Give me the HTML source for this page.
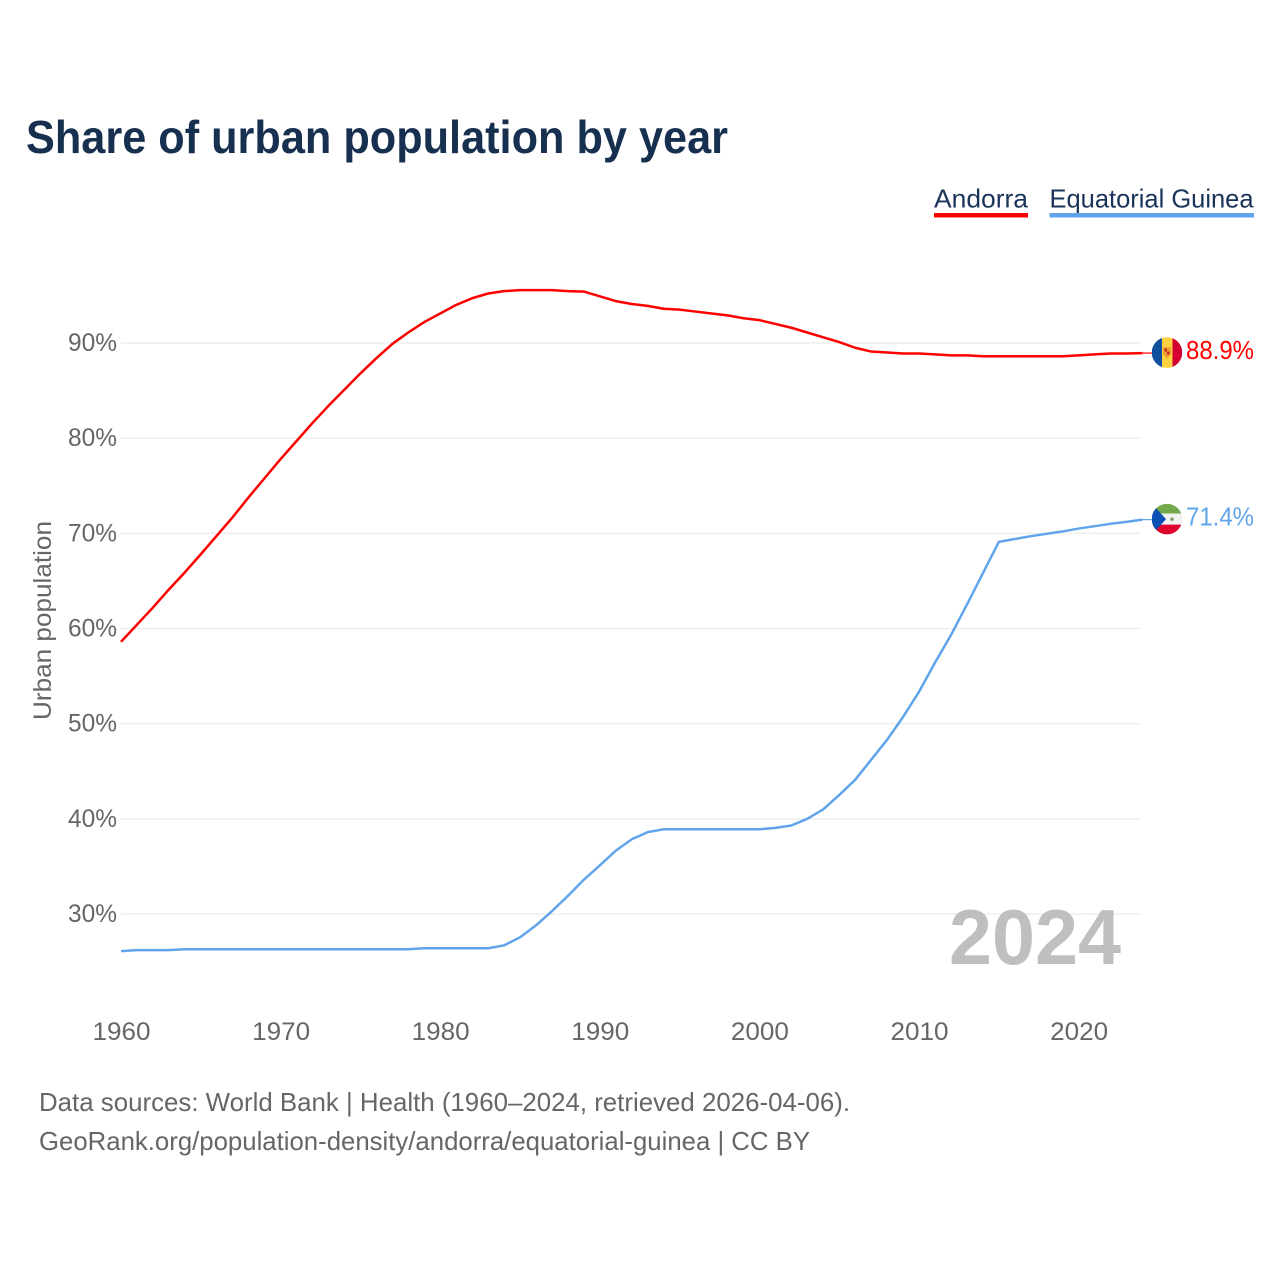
<!DOCTYPE html>
<html lang="en">
<head>
<meta charset="utf-8">
<title>Share of urban population by year</title>
<style>
html,body{margin:0;padding:0;background:#fff;}
svg{display:block;}
text{font-family:"Liberation Sans",sans-serif;}
</style>
</head>
<body>
<svg id="chart" xmlns="http://www.w3.org/2000/svg" width="1280" height="1280" viewBox="0 0 1280 1280">
  <rect x="0" y="0" width="1280" height="1280" fill="#ffffff"/>
  <text x="26" y="153" font-size="46" font-weight="700" fill="#17304f" textLength="702" lengthAdjust="spacingAndGlyphs">Share of urban population by year</text>

  <g>
    <text x="934" y="207.500" font-size="26" fill="#1a3358" textLength="94" lengthAdjust="spacingAndGlyphs">Andorra</text>
    <rect x="934" y="213" width="94" height="4.5" fill="#ff0000"/>
  </g>
  <g>
    <text x="1049.5" y="207.500" font-size="26" fill="#1a3358" textLength="204" lengthAdjust="spacingAndGlyphs">Equatorial Guinea</text>
    <rect x="1049.5" y="213" width="204.5" height="4.5" fill="#60a5ec"/>
  </g>

  <g id="grid"></g>
  <g id="yticks"></g>
  <g id="xticks"></g>
  <text transform="translate(51,720) rotate(-90)" font-size="25" fill="#666666" textLength="199" lengthAdjust="spacingAndGlyphs">Urban population</text>

  <text x="949" y="964" font-size="78" font-weight="700" fill="#bfbfbf" textLength="172" lengthAdjust="spacingAndGlyphs">2024</text>

  <g id="series"></g>

  <defs>
    <clipPath id="clip-ad"><circle cx="15" cy="15.500" r="15.300"/></clipPath>
    <clipPath id="clip-gq"><circle cx="15" cy="15.500" r="15.300"/></clipPath>
  </defs>
  <g id="flag-ad">
    <g clip-path="url(#clip-ad)">
      <rect x="0" y="0" width="10" height="31" fill="#10509e"/>
      <rect x="10" y="0" width="10.5" height="31" fill="#fcd13f"/>
      <rect x="20.5" y="0" width="9.5" height="31" fill="#d50032"/>
      <path d="M11 10h8v7l-4 4.500-4-4.500z" fill="#f0a030"/>
      <rect x="12.500" y="11.500" width="2.500" height="3" fill="#c8202c"/>
      <rect x="15" y="14.500" width="2.500" height="3" fill="#c8202c"/>
    </g>
  </g>
  <g id="flag-gq">
    <g clip-path="url(#clip-gq)">
      <rect x="0" y="0" width="30" height="10" fill="#73a94a"/>
      <rect x="0" y="10" width="30" height="11" fill="#f2f2f2"/>
      <rect x="0" y="21" width="30" height="10" fill="#e0002d"/>
      <path d="M0 0L14 15.500L0 31z" fill="#0a50b5"/>
      <circle cx="20" cy="15.500" r="1.800" fill="#7d9a70"/>
    </g>
  </g>
  <g id="end-labels"></g>

  <text x="39" y="1111" font-size="26" fill="#666666" textLength="811" lengthAdjust="spacingAndGlyphs">Data sources: World Bank | Health (1960–2024, retrieved 2026-04-06).</text>
  <text x="39" y="1150" font-size="26" fill="#666666" textLength="771" lengthAdjust="spacingAndGlyphs">GeoRank.org/population-density/andorra/equatorial-guinea | CC BY</text>
</svg>
<script>
const startYear = 1960;
const xTickYears = [1960, 1970, 1980, 1990, 2000, 2010, 2020];
const yTickValues = [30, 40, 50, 60, 70, 80, 90];
const andorraValues = [
  58.6, 60.4, 62.2, 64.1, 65.9, 67.8, 69.75, 71.7, 73.8, 75.8,
  77.8, 79.7, 81.6, 83.4, 85.1, 86.8, 88.4, 89.9, 91.1, 92.2,
  93.1, 94.0, 94.7, 95.2, 95.45, 95.55, 95.55, 95.55, 95.45, 95.4,
  94.9, 94.4, 94.1, 93.9, 93.6, 93.5, 93.3, 93.1, 92.9, 92.6,
  92.4, 92.0, 91.6, 91.1, 90.6, 90.1, 89.5, 89.1, 89.0, 88.9,
  88.9, 88.8, 88.7, 88.7, 88.6, 88.6, 88.6, 88.6, 88.6, 88.6,
  88.7, 88.8, 88.9, 88.9, 88.94
];
const equatorialGuineaValues = [
  26.1, 26.2, 26.2, 26.2, 26.3, 26.3, 26.3, 26.3, 26.3, 26.3,
  26.3, 26.3, 26.3, 26.3, 26.3, 26.3, 26.3, 26.3, 26.3, 26.4,
  26.4, 26.4, 26.4, 26.4, 26.7, 27.55, 28.8, 30.3, 31.9, 33.6,
  35.1, 36.65, 37.85, 38.6, 38.9, 38.9, 38.9, 38.9, 38.9, 38.9,
  38.9, 39.05, 39.3, 40.0, 41.0, 42.5, 44.1, 46.2, 48.3, 50.7,
  53.35, 56.4, 59.3, 62.5, 65.8, 69.1, 69.4, 69.7, 69.95, 70.2,
  70.5, 70.75, 71.0, 71.2, 71.44
];

const NS = 'http://www.w3.org/2000/svg';
function xScale(year) { return 121 + (year - 1960) * 15.96; }
function yScale(value) { return 914 - (value - 30) * 9.517; }
function make(tag, attrs) {
  const el = document.createElementNS(NS, tag);
  for (const k in attrs) el.setAttribute(k, attrs[k]);
  return el;
}

const grid = document.getElementById('grid');
const yticks = document.getElementById('yticks');
yTickValues.forEach(function (v) {
  const line = make('line', { x1: 121, x2: 1141, y1: yScale(v), y2: yScale(v), stroke: '#eeeeee', 'stroke-width': 1.5 });
  
  
  grid.appendChild(line);
  const t = make('text', { x: 68, y: yScale(v) + 8, 'font-size': 25, fill: '#666666', textLength: 49, lengthAdjust: 'spacingAndGlyphs' });
  
  
  t.textContent = v + '%';
  yticks.appendChild(t);
});

const xticks = document.getElementById('xticks');
xTickYears.forEach(function (yr) {
  const t = make('text', { x: xScale(yr) - 28.5, y: 1040, 'font-size': 25, fill: '#666666', textLength: 58, lengthAdjust: 'spacingAndGlyphs' });
  
  
  t.textContent = yr;
  xticks.appendChild(t);
});

function pathFor(values) {
  return values.map(function (v, i) {
    return (i ? 'L' : 'M') + xScale(startYear + i).toFixed(2) + ' ' + yScale(v).toFixed(2);
  }).join(' ');
}
const seriesGroup = document.getElementById('series');
const endLabels = document.getElementById('end-labels');

const andorraLine = make('path', { d: pathFor(andorraValues), fill: 'none', stroke: '#ff0000', 'stroke-width': 2.5, 'stroke-linejoin': 'round' });


seriesGroup.appendChild(andorraLine);

const guineaLine = make('path', { d: pathFor(equatorialGuineaValues), fill: 'none', stroke: '#60a5ec', 'stroke-width': 2.5, 'stroke-linejoin': 'round' });


seriesGroup.appendChild(guineaLine);

function addEnd(values, color, flagId, suffix) {
  const last = values[values.length - 1];
  const y = yScale(last);
  const lastX = xScale(startYear + values.length - 1);
  const conn = make('line', { x1: lastX, x2: 1152, y1: y, y2: y, stroke: color, 'stroke-width': 1.2 });
  
  
  seriesGroup.appendChild(conn);
  document.getElementById(flagId).setAttribute('transform', 'translate(1152,' + (y - 16) + ')');
  const t = make('text', { x: 1186, y: y + 6, 'font-size': 26, fill: color, textLength: 68, lengthAdjust: 'spacingAndGlyphs' });
  
  
  t.textContent = last.toFixed(1) + '%';
  endLabels.appendChild(t);
}
addEnd(andorraValues, '#ff0000', 'flag-ad', 'andorra');
addEnd(equatorialGuineaValues, '#60a5ec', 'flag-gq', 'equatorial-guinea');
</script>
</body>
</html>
